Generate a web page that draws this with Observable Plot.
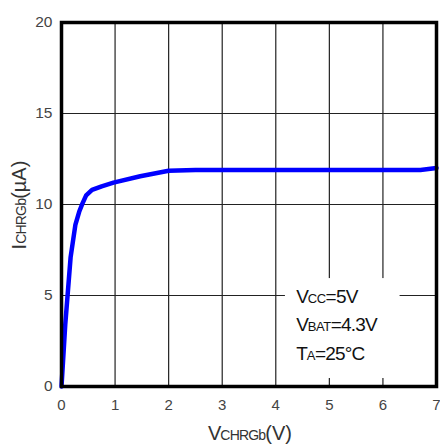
<!DOCTYPE html>
<html><head><meta charset="utf-8">
<script src="https://cdn.jsdelivr.net/npm/d3@7"></script>
<script src="https://cdn.jsdelivr.net/npm/@observablehq/plot@0.6"></script>
<style>body{margin:0;background:#fff;} svg{font-family:"Liberation Sans",Arial,sans-serif;}</style>
</head><body><div id="chart"></div>
<script>
const vChrgb = [0, 0.07, 0.17, 0.26, 0.33, 0.39, 0.46, 0.57, 0.75, 0.97, 1.47, 2.0, 2.5, 3.0, 4.0, 5.0, 6.0, 6.7, 7.0];
const iChrgb = [0, 3.4, 7.1, 8.9, 9.6, 10.05, 10.5, 10.8, 11.0, 11.2, 11.55, 11.85, 11.9, 11.9, 11.9, 11.9, 11.9, 11.9, 12.0];
const xTicks = [0, 1, 2, 3, 4, 5, 6, 7];
const yTicks = [0, 5, 10, 15, 20];
const annoMain = ["V", "V", "T"];
const annoSub = ["CC", "BAT", "A"];
const annoRest = ["=5V", "=4.3V", "=25°C"];
const annoY = [4.95, 3.4, 1.8];
const annoX = 4.38;
const annoBox = [{x1: 4.18, x2: 6.32, y1: 0.44, y2: 5.93}];

const curve = vChrgb.map((v, i) => ({v, i: iChrgb[i]}));
const anno = annoMain.map((m, k) => ({main: m, sub: annoSub[k], rest: annoRest[k], y: annoY[k]}));

const chart = Plot.plot({
  width: 440, height: 446,
  marginLeft: 61, marginRight: 4, marginTop: 22, marginBottom: 60,
  x: {domain: [0, 7]},
  y: {domain: [0, 20]},
  style: {fontFamily: '"Liberation Sans", Arial, sans-serif', background: "#fff"},
  marks: [
    Plot.gridX(xTicks.slice(1, -1), {stroke: "#222", strokeOpacity: 1, strokeWidth: 1.2}),
    Plot.gridY(yTicks.slice(1, -1), {stroke: "#222", strokeOpacity: 1, strokeWidth: 1.2}),
    Plot.rect(annoBox, {x1: "x1", x2: "x2", y1: "y1", y2: "y2", fill: "white"}),
    Plot.line(curve, {x: "v", y: "i", stroke: "#0000ff", strokeWidth: 4.5, curve: "linear", strokeLinejoin: "round"}),
    Plot.frame({stroke: "black", strokeWidth: 3.5}),
    Plot.axisX(xTicks, {tickSize: 0, tickPadding: 13, fontSize: 15, fill: "#444", label: null}),
    Plot.axisY(yTicks, {tickSize: 0, tickPadding: 9, fontSize: 15.5, fill: "#444", label: null}),
    Plot.text(anno, {x: () => annoX, y: "y", text: d => d.main + d.sub + d.rest, textAnchor: "start", lineAnchor: "middle", fontSize: 19, fill: "#111", className: "anno"})
  ]
});

// rich-text annotations (small-caps subscripts)
const annoTexts = chart.querySelectorAll(".anno text");
annoTexts.forEach((t, k) => {
  const a = anno[k];
  t.textContent = "";
  const s = d3.select(t);
  s.append("tspan").text(a.main).attr("font-size", 19).attr("letter-spacing", -1);
  s.append("tspan").text(a.sub).attr("font-size", 13).attr("letter-spacing", -0.5);
  s.append("tspan").text(a.rest).attr("font-size", 19).attr("letter-spacing", -0.8);
});

// axis titles
const svg = d3.select(chart);
const xl = svg.append("text").attr("x", 250).attr("y", 440).attr("text-anchor", "middle").attr("fill", "#333");
xl.append("tspan").text("V").attr("font-size", 20).attr("letter-spacing", -1);
xl.append("tspan").text("CHRGb").attr("font-size", 14).attr("letter-spacing", -0.8);
xl.append("tspan").text("(V)").attr("font-size", 20);
const yl = svg.append("text").attr("transform", "translate(26,205) rotate(-90)").attr("text-anchor", "middle").attr("fill", "#333");
yl.append("tspan").text("I").attr("font-size", 20);
yl.append("tspan").text("CHRGb").attr("font-size", 14).attr("letter-spacing", -0.8);
yl.append("tspan").text("(µA)").attr("font-size", 20);

document.getElementById("chart").appendChild(chart);
</script></body></html>
